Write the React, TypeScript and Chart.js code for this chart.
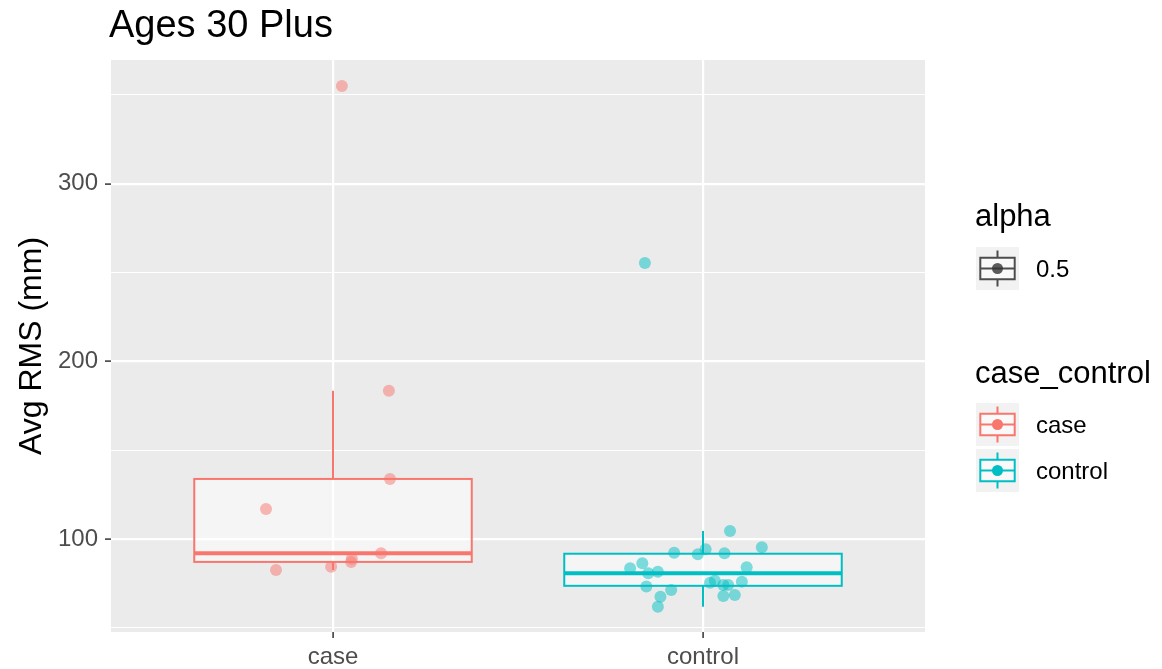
import React, { useEffect, useRef } from 'react';
import { Chart, registerables } from 'chart.js';

Chart.register(...registerables);

const FONT = '"Liberation Sans", Arial, Helvetica, sans-serif';

const chartTitle = 'Ages 30 Plus';
const yAxisTitle = 'Avg RMS (mm)';
const categories = ['case', 'control'];
const groupColors = ['#F8766D', '#00BFC4'];
const groupPointColors = ['rgba(248,118,109,0.5)', 'rgba(0,191,196,0.5)'];

// case group: values and jittered x positions (category 1)
const caseValues = [355.1, 183.5, 133.9, 117.0, 92.1, 89.0, 87.2, 84.5, 82.7];
const caseJitterX = [1.024, 1.151, 1.154, 0.819, 1.130, 1.051, 1.049, 0.995, 0.846];

// control group: values and jittered x positions (category 2)
const controlValues = [
  104.6, 95.4, 92.4, 91.5, 94.3, 92.1, 83.6, 86.4, 80.8, 81.7, 84.2, 73.3,
  71.4, 67.6, 62.0, 75.5, 76.6, 74.2, 74.2, 76.1, 68.0, 68.6, 255.5,
];
const controlJitterX = [
  2.073, 2.159, 1.922, 1.986, 2.007, 2.058, 1.803, 1.836, 1.852, 1.878, 2.118, 1.847,
  1.914, 1.885, 1.878, 2.019, 2.032, 2.055, 2.068, 2.105, 2.055, 2.086, 1.843,
];

const yGridValues = [50, 100, 150, 200, 250, 300, 350];
const yLabelValues = [100, 200, 300];
const yMin = 47.75;
const yMax = 369.7;

const alphaLegendTitle = 'alpha';
const alphaLegendLabel = '0.5';
const groupLegendTitle = 'case_control';

function quantile(sorted: number[], p: number) {
  const h = (sorted.length - 1) * p;
  const lo = Math.floor(h);
  const hi = Math.ceil(h);
  return sorted[lo] + (sorted[hi] - sorted[lo]) * (h - lo);
}

function boxStats(values: number[]) {
  const s = [...values].sort((a, b) => a - b);
  const q1 = quantile(s, 0.25);
  const med = quantile(s, 0.5);
  const q3 = quantile(s, 0.75);
  const iqr = q3 - q1;
  const lo = s.filter((v) => v >= q1 - 1.5 * iqr)[0];
  const hiArr = s.filter((v) => v <= q3 + 1.5 * iqr);
  const hi = hiArr[hiArr.length - 1];
  return { q1, med, q3, lo, hi };
}

const groups = [caseValues, controlValues];

const panelPlugin = {
  id: 'panelBg',
  beforeDraw(chart: any) {
    const { ctx, chartArea: a } = chart;
    ctx.save();
    ctx.fillStyle = '#EBEBEB';
    ctx.fillRect(a.left, a.top, a.right - a.left, a.bottom - a.top);
    ctx.restore();
  },
};

const boxPlugin = {
  id: 'boxes',
  beforeDatasetsDraw(chart: any) {
    const { ctx } = chart;
    const xs = chart.scales.x;
    const ys = chart.scales.y;
    ctx.save();
    groups.forEach((vals, i) => {
      const st = boxStats(vals);
      const c = i + 1;
      const xl = xs.getPixelForValue(c - 0.375);
      const xr = xs.getPixelForValue(c + 0.375);
      const xc = xs.getPixelForValue(c);
      const y1 = ys.getPixelForValue(st.q1);
      const y3 = ys.getPixelForValue(st.q3);
      const ym = ys.getPixelForValue(st.med);
      const yl = ys.getPixelForValue(st.lo);
      const yh = ys.getPixelForValue(st.hi);
      ctx.strokeStyle = groupColors[i];
      ctx.lineWidth = 2;
      ctx.beginPath();
      ctx.moveTo(xc, y3);
      ctx.lineTo(xc, yh);
      ctx.moveTo(xc, y1);
      ctx.lineTo(xc, yl);
      ctx.stroke();
      ctx.fillStyle = 'rgba(255,255,255,0.5)';
      ctx.fillRect(xl, y3, xr - xl, y1 - y3);
      ctx.strokeRect(xl, y3, xr - xl, y1 - y3);
      ctx.lineWidth = 4;
      ctx.beginPath();
      ctx.moveTo(xl, ym);
      ctx.lineTo(xr, ym);
      ctx.stroke();
    });
    ctx.restore();
  },
};

function drawKey(ctx: any, x: number, y: number, size: number, color: string, dot: string) {
  ctx.fillStyle = '#F2F2F2';
  ctx.fillRect(x, y, size, size);
  const bx0 = x + size * 0.1;
  const bx1 = x + size * 0.9;
  const by0 = y + size * 0.25;
  const by1 = y + size * 0.75;
  const cx = x + size / 2;
  const cy = y + size / 2;
  ctx.strokeStyle = color;
  ctx.lineWidth = 2;
  ctx.beginPath();
  ctx.moveTo(cx, y + size * 0.08);
  ctx.lineTo(cx, by0);
  ctx.moveTo(cx, by1);
  ctx.lineTo(cx, y + size * 0.92);
  ctx.stroke();
  ctx.fillStyle = 'rgba(255,255,255,0.5)';
  ctx.fillRect(bx0, by0, bx1 - bx0, by1 - by0);
  ctx.strokeRect(bx0, by0, bx1 - bx0, by1 - by0);
  ctx.beginPath();
  ctx.moveTo(bx0, cy);
  ctx.lineTo(bx1, cy);
  ctx.stroke();
  ctx.fillStyle = dot;
  ctx.beginPath();
  ctx.arc(cx, cy, 5.5, 0, Math.PI * 2);
  ctx.fill();
}

const textPlugin = {
  id: 'texts',
  afterDraw(chart: any) {
    const { ctx } = chart;
    ctx.save();
    ctx.fillStyle = '#000000';
    ctx.textAlign = 'left';
    ctx.textBaseline = 'alphabetic';
    ctx.font = `38px ${FONT}`;
    ctx.fillText(chartTitle, 109, 37);

    // legend
    ctx.font = `31px ${FONT}`;
    ctx.fillText(alphaLegendTitle, 975, 226);
    drawKey(ctx, 976, 247, 43, '#4D4D4D', 'rgba(51,51,51,0.8)');
    ctx.font = `24px ${FONT}`;
    ctx.fillStyle = '#000000';
    ctx.textBaseline = 'middle';
    ctx.fillText(alphaLegendLabel, 1036, 270);

    ctx.textBaseline = 'alphabetic';
    ctx.font = `31px ${FONT}`;
    ctx.fillText(groupLegendTitle, 975, 383);
    categories.forEach((cat, i) => {
      const ky = 403 + i * 46;
      drawKey(ctx, 976, ky, 43, groupColors[i], groupColors[i]);
      ctx.fillStyle = '#000000';
      ctx.font = `24px ${FONT}`;
      ctx.textBaseline = 'middle';
      ctx.fillText(cat, 1036, ky + 23);
    });
    ctx.restore();
  },
};

export default function App() {
  const ref = useRef<HTMLCanvasElement>(null);
  useEffect(() => {
    const canvas = ref.current;
    if (!canvas) return;
    const chart = new Chart(canvas, {
      type: 'scatter',
      data: {
        datasets: [
          {
            label: categories[0],
            data: caseValues.map((v, i) => ({ x: caseJitterX[i], y: v })),
            backgroundColor: groupPointColors[0],
            borderWidth: 0,
            pointRadius: 6,
          },
          {
            label: categories[1],
            data: controlValues.map((v, i) => ({ x: controlJitterX[i], y: v })),
            backgroundColor: groupPointColors[1],
            borderWidth: 0,
            pointRadius: 6,
          },
        ],
      },
      options: {
        animation: false,
        responsive: false,
        devicePixelRatio: 1,
        layout: { padding: { left: 0, top: 60, right: 237, bottom: 0 } },
        plugins: {
          legend: { display: false },
          tooltip: { enabled: false },
          title: { display: false },
        },
        scales: {
          x: {
            type: 'linear',
            min: 0.4,
            max: 2.6,
            afterBuildTicks: (s: any) => {
              s.ticks = categories.map((_, i) => ({ value: i + 1 }));
            },
            afterFit: (s: any) => {
              s.height = 37;
            },
            ticks: {
              autoSkip: false,
              maxRotation: 0,
              padding: 5,
              color: '#4D4D4D',
              font: { family: FONT, size: 24 },
              callback: (v: any) => categories[Math.round(Number(v)) - 1] ?? '',
            },
            grid: {
              color: '#FFFFFF',
              lineWidth: 2.2,
              tickColor: '#333333',
              tickLength: 6,
              tickWidth: 1.5,
            },
            border: { display: false },
          },
          y: {
            type: 'linear',
            min: yMin,
            max: yMax,
            afterBuildTicks: (s: any) => {
              s.ticks = yGridValues.map((v) => ({ value: v }));
            },
            afterFit: (s: any) => {
              s.width = 111;
            },
            title: {
              display: true,
              text: yAxisTitle,
              color: '#000000',
              font: { family: FONT, size: 32 },
              padding: { top: 13, bottom: 0 },
            },
            ticks: {
              autoSkip: false,
              padding: 7,
              color: '#4D4D4D',
              font: { family: FONT, size: 24 },
              callback: (v: any) => (yLabelValues.includes(Number(v)) ? String(v) : ''),
            },
            grid: {
              color: '#FFFFFF',
              lineWidth: (ctx: any) => (ctx.tick && yLabelValues.includes(ctx.tick.value) ? 2.2 : 1.1),
              tickColor: (ctx: any) =>
                ctx.tick && yLabelValues.includes(ctx.tick.value) ? '#333333' : 'rgba(0,0,0,0)',
              tickLength: 6,
              tickWidth: 1.5,
            },
            border: { display: false },
          },
        },
      } as any,
      plugins: [panelPlugin, boxPlugin, textPlugin],
    });
    return () => chart.destroy();
  }, []);
  return (
    <div style={{ position: 'fixed', left: 0, top: 0, width: 1162, height: 669, background: '#FFFFFF' }}>
      <canvas ref={ref} width={1162} height={669} style={{ display: 'block', width: 1162, height: 669 }} />
    </div>
  );
}
